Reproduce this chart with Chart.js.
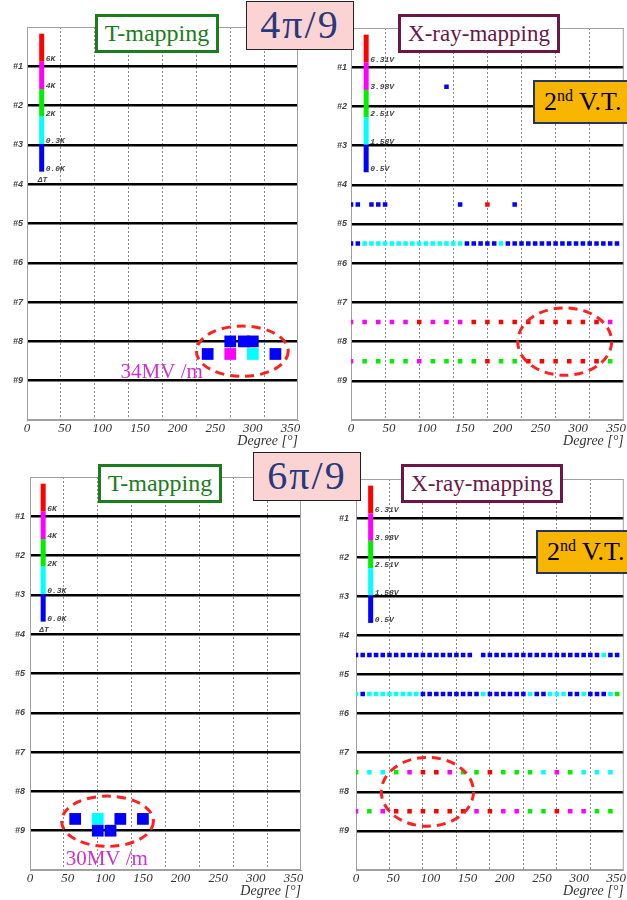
<!DOCTYPE html>
<html>
<head>
<meta charset="utf-8">
<title>T-mapping / X-ray-mapping</title>
<script src="https://cdn.jsdelivr.net/npm/chart.js@4.4.1/dist/chart.umd.min.js"></script>
<style>
  html, body { margin: 0; padding: 0; background: #fff; }
  #page { position: relative; width: 627px; height: 900px; overflow: hidden; }
  #page canvas { position: absolute; }
  .tag { position: absolute; box-sizing: border-box; background: #fff; white-space: nowrap; z-index: 2;
         font-family: "Liberation Serif", "DejaVu Serif", serif; text-align: center; }
  .tmap { border: 3px solid #1b7d1b; color: #1b7d1b; font-size: 24px; line-height: 33px; width: 124px; height: 39px; }
  .xmap { border: 3px solid #6c1747; color: #6c1747; font-size: 23px; line-height: 33px; width: 162px; height: 39px; }
  .phase { background: #fcd3d3; border: 1.5px solid #222; color: #28397c; font-size: 40px; line-height: 46px;
           width: 108px; height: 49px; letter-spacing: 2px; }
  .vt { background: #f8b500; border: 2px solid #24365e; color: #000; font-size: 26px; line-height: 40px;
        width: 100px; height: 44px; text-align: left; padding-left: 9px; }
  .vt sup { font-size: 16px; vertical-align: 9px; line-height: 0; }
</style>
</head>
<body>
<div id="page">
  <canvas id="tl" width="310" height="450" style="left:0px;top:0px"></canvas>
  <canvas id="tr" width="317" height="450" style="left:310px;top:0px"></canvas>
  <canvas id="bl" width="310" height="450" style="left:0px;top:450px"></canvas>
  <canvas id="br" width="317" height="450" style="left:310px;top:450px"></canvas>

  <div class="tag tmap" style="left:95px;top:14px">T-mapping</div>
  <div class="tag phase" style="left:246px;top:1px">4π/9</div>
  <div class="tag xmap" style="left:398px;top:14px">X-ray-mapping</div>
  <div class="tag vt" style="left:533px;top:80px">2<sup>nd</sup> V.T.</div>

  <div class="tag tmap" style="left:98px;top:464px">T-mapping</div>
  <div class="tag phase" style="left:253px;top:452px">6π/9</div>
  <div class="tag xmap" style="left:401px;top:464px">X-ray-mapping</div>
  <div class="tag vt" style="left:536px;top:530px">2<sup>nd</sup> V.T.</div>
</div>

<script>
// axes
const rowIndex = [1, 2, 3, 4, 5, 6, 7, 8, 9];
const degreeTicks = [0, 50, 100, 150, 200, 250, 300, 350];
const gridDegrees = [45, 90, 135, 180, 225, 270, 315];

// x-ray detector angles (deg)
const detAll = [0, 9, 18, 27, 36, 45, 54, 63, 72, 81, 90, 99, 108, 117, 126, 135, 144, 153, 162, 171,
                180, 189, 198, 207, 216, 225, 234, 243, 252, 261, 270, 279, 288, 297, 306, 315, 324, 333, 342, 351];
const detHalf = [0, 18, 36, 54, 72, 90, 108, 126, 144, 162, 180, 198, 216, 234, 252, 270, 288, 306, 324, 342];

// colour codes: B blue, C cyan, G green, M magenta, R red, - none
const COLORS = { B: "#0000ff", C: "#00ffff", G: "#00ee00", M: "#ff00ff", R: "#ff0000" };

// legend bars
const barColors = ["#ff0000", "#ff00ff", "#00ee00", "#00ffff", "#0000ff"];
const tempLabels = ["6K", "4K", "2K", "0.3K", "0.0K"];
const voltLabels = ["6.31V", "3.98V", "2.51V", "1.58V", "0.5V"];

// T-mapping, 4pi/9
const tm4Angles8 = [270, 288, 300];
const tm4Colors8 = "BBB";
const tm4Angles83 = [240, 270, 300, 330];
const tm4Colors83 = "BMCB";

// T-mapping, 6pi/9
const tm6Angles87 = [60, 90, 120, 150];
const tm6Colors87 = "BCBB";
const tm6Angles9 = [90, 107];
const tm6Colors9 = "BB";

// X-ray, 4pi/9
const xr4Angles15 = [126];
const xr4Colors15 = "B";
const xr4Angles45 = [0, 9, 27, 36, 45, 144, 180, 216];
const xr4Colors45 = "BBBBBBRB";
const xr4Colors55 = "BBCCCCCCCC" + "CCCCCCCBBB" + "BBCBBBBBBB" + "BBBBBBBBBB";
const xr4Colors75 = "MMMMMRMMMR" + "RRRRRRRRRM";
const xr4Colors85 = "MGGGGMGGGG" + "RGGRRRRRRG";

// X-ray, 6pi/9
const xr6Colors45 = "BBBBBBBBBB" + "BBBBBBBB-B" + "BBBBBBBBBB" + "BBBBBBBCBB";
const xr6Colors55 = "CBCCCCCCCC" + "BBBBBBBBBC" + "BBBBBBCBBC" + "CCBBCBBBCG";
const xr6Colors75 = "GCCGMRRMGG" + "RGGGCMGCCC";
const xr6Colors85 = "MGMRRRRRRM" + "RMMGGRMMGG";

const barStops = [0.17, 0.88, 1.58, 2.28, 2.98, 3.68];

function pointsByColor(rows, r) {
  const groups = {};
  rows.forEach(row => {
    row.angles.forEach((a, i) => {
      const c = row.colors[i];
      if (!COLORS[c]) return;
      (groups[c] = groups[c] || []).push({ x: a, y: row.y });
    });
  });
  return Object.keys(groups).map(c => ({
    data: groups[c],
    backgroundColor: COLORS[c],
    pointStyle: "rect",
    pointRadius: r,
    pointHoverRadius: r,
    pointBorderWidth: 0
  }));
}

const overlay = {
  id: "overlay",
  beforeDatasetsDraw(chart) {
    const a = chart.chartArea, ctx = chart.ctx;
    ctx.save();
    ctx.strokeStyle = "#a0a0a0";
    ctx.lineWidth = 1;
    ctx.strokeRect(a.left + 0.5, a.top + 0.5, a.right - a.left - 1, a.bottom - a.top - 1);
    ctx.restore();
  },
  afterDatasetsDraw(chart, args, o) {
    const sx = chart.scales.x, sy = chart.scales.y, ctx = chart.ctx;
    ctx.save();

    // colour scale
    const bx = sx.getPixelForValue(o.barX);
    for (let i = 0; i < barColors.length; i++) {
      const y0 = sy.getPixelForValue(barStops[i]);
      const y1 = sy.getPixelForValue(barStops[i + 1]);
      ctx.fillStyle = barColors[i];
      ctx.fillRect(bx - 2.5, y0, 5, y1 - y0);
    }
    ctx.font = 'italic bold 8px "Liberation Mono", monospace';
    ctx.fillStyle = "#444";
    ctx.textAlign = "left";
    ctx.textBaseline = "middle";
    o.barLabels.forEach((t, i) => {
      ctx.fillText(t, bx + 4, sy.getPixelForValue(barStops[i + 1]) - 3);
    });
    if (o.barUnit) {
      ctx.fillText(o.barUnit, bx - 4, sy.getPixelForValue(barStops[barStops.length - 1]) + 8);
    }

    // dashed ellipse
    const e = o.ellipse;
    const cx = sx.getPixelForValue(e.x), cy = sy.getPixelForValue(e.y);
    const rx = Math.abs(sx.getPixelForValue(e.x + e.rx) - cx);
    const ry = Math.abs(sy.getPixelForValue(e.y + e.ry) - cy);
    ctx.beginPath();
    ctx.setLineDash([9, 6]);
    ctx.lineWidth = 3;
    ctx.strokeStyle = "#ff2020";
    ctx.ellipse(cx, cy, rx, ry, 0, 0, Math.PI * 2);
    ctx.stroke();
    ctx.setLineDash([]);

    // field label
    if (o.note) {
      ctx.font = '21px "Liberation Serif", serif';
      ctx.fillStyle = "#cc33cc";
      ctx.textAlign = "center";
      ctx.fillText(o.note.text, sx.getPixelForValue(o.note.x), sy.getPixelForValue(o.note.y));
    }
    ctx.restore();
  }
};

function buildChart(id, p) {
  return new Chart(document.getElementById(id), {
    type: "scatter",
    data: { datasets: pointsByColor(p.rows, p.r) },
    plugins: [overlay],
    options: {
      responsive: false,
      animation: false,
      layout: { padding: { top: p.padTop, right: p.padRight, left: 0, bottom: 0 } },
      plugins: {
        legend: { display: false },
        tooltip: { enabled: false },
        overlay: p.overlay
      },
      scales: {
        x: {
          type: "linear", position: "bottom", min: 0, max: 360,
          afterBuildTicks: s => { s.ticks = degreeTicks.map(v => ({ value: v })); },
          afterFit: s => { s.height = 30; s.paddingLeft = 0; s.paddingRight = 0; },
          grid: { display: false, drawTicks: false },
          border: { color: "#a0a0a0" },
          ticks: {
            padding: 1, color: "#333", maxRotation: 0, autoSkip: false,
            font: { family: "Liberation Serif", size: 13, style: "italic" }
          },
          title: {
            display: true, text: "Degree [°]", align: "end", color: "#333",
            padding: { top: 0, bottom: 0 },
            font: { family: "Liberation Serif", size: 14, style: "italic" }
          }
        },
        xg: {
          type: "linear", position: "bottom", min: 0, max: 360,
          afterBuildTicks: s => { s.ticks = gridDegrees.map(v => ({ value: v })); },
          afterFit: s => { s.height = 0; s.paddingLeft = 0; s.paddingRight = 0; },
          ticks: { display: false },
          grid: { color: "#888", lineWidth: 1, drawTicks: false },
          border: { display: false, dash: [2, 2] }
        },
        y: {
          type: "linear", min: 0, max: 10, reverse: true,
          afterBuildTicks: s => { s.ticks = rowIndex.map(v => ({ value: v })); },
          afterFit: s => { s.width = p.yAxisW; s.paddingTop = 0; s.paddingBottom = 0; },
          grid: { color: "#000", lineWidth: 2.5, drawTicks: false },
          border: { color: "#a0a0a0" },
          ticks: {
            padding: p.yTickPad, color: "#444",
            callback: v => "#" + v,
            font: { family: "Liberation Sans", size: 9, style: "italic", weight: "bold" }
          }
        }
      }
    }
  });
}

buildChart("tl", {
  yAxisW: 27, padTop: 27, padRight: 12, yTickPad: 4, r: 8.3,
  rows: [
    { y: 8.0, angles: tm4Angles8, colors: tm4Colors8 },
    { y: 8.32, angles: tm4Angles83, colors: tm4Colors83 }
  ],
  overlay: {
    barX: 19.5, barLabels: tempLabels, barUnit: "ΔT",
    ellipse: { x: 286, y: 8.25, rx: 61, ry: 0.64 },
    note: { text: "34MV /m", x: 179, y: 8.78 }
  }
});

buildChart("tr", {
  yAxisW: 41, padTop: 28, padRight: 2, yTickPad: 4, r: 3.2,
  rows: [
    { y: 1.5, angles: xr4Angles15, colors: xr4Colors15 },
    { y: 4.5, angles: xr4Angles45, colors: xr4Colors45 },
    { y: 5.5, angles: detAll, colors: xr4Colors55 },
    { y: 7.5, angles: detHalf, colors: xr4Colors75 },
    { y: 8.5, angles: detHalf, colors: xr4Colors85 }
  ],
  overlay: {
    barX: 20, barLabels: voltLabels,
    ellipse: { x: 282, y: 8.0, rx: 62, ry: 0.86 }
  }
});

buildChart("bl", {
  yAxisW: 30, padTop: 27, padRight: 9, yTickPad: 5, r: 8.3,
  rows: [
    { y: 8.7, angles: tm6Angles87, colors: tm6Colors87 },
    { y: 9.0, angles: tm6Angles9, colors: tm6Colors9 }
  ],
  overlay: {
    barX: 17.5, barLabels: tempLabels, barUnit: "ΔT",
    ellipse: { x: 103, y: 8.76, rx: 61, ry: 0.64 },
    note: { text: "30MV /m", x: 102, y: 9.72 }
  }
});

buildChart("br", {
  yAxisW: 46, padTop: 29, padRight: 2, yTickPad: 7, r: 3.2,
  rows: [
    { y: 4.5, angles: detAll, colors: xr6Colors45 },
    { y: 5.5, angles: detAll, colors: xr6Colors55 },
    { y: 7.5, angles: detHalf, colors: xr6Colors75 },
    { y: 8.5, angles: detHalf, colors: xr6Colors85 }
  ],
  overlay: {
    barX: 19.7, barLabels: voltLabels,
    ellipse: { x: 96, y: 8.0, rx: 62, ry: 0.88 }
  }
});
</script>
</body>
</html>
